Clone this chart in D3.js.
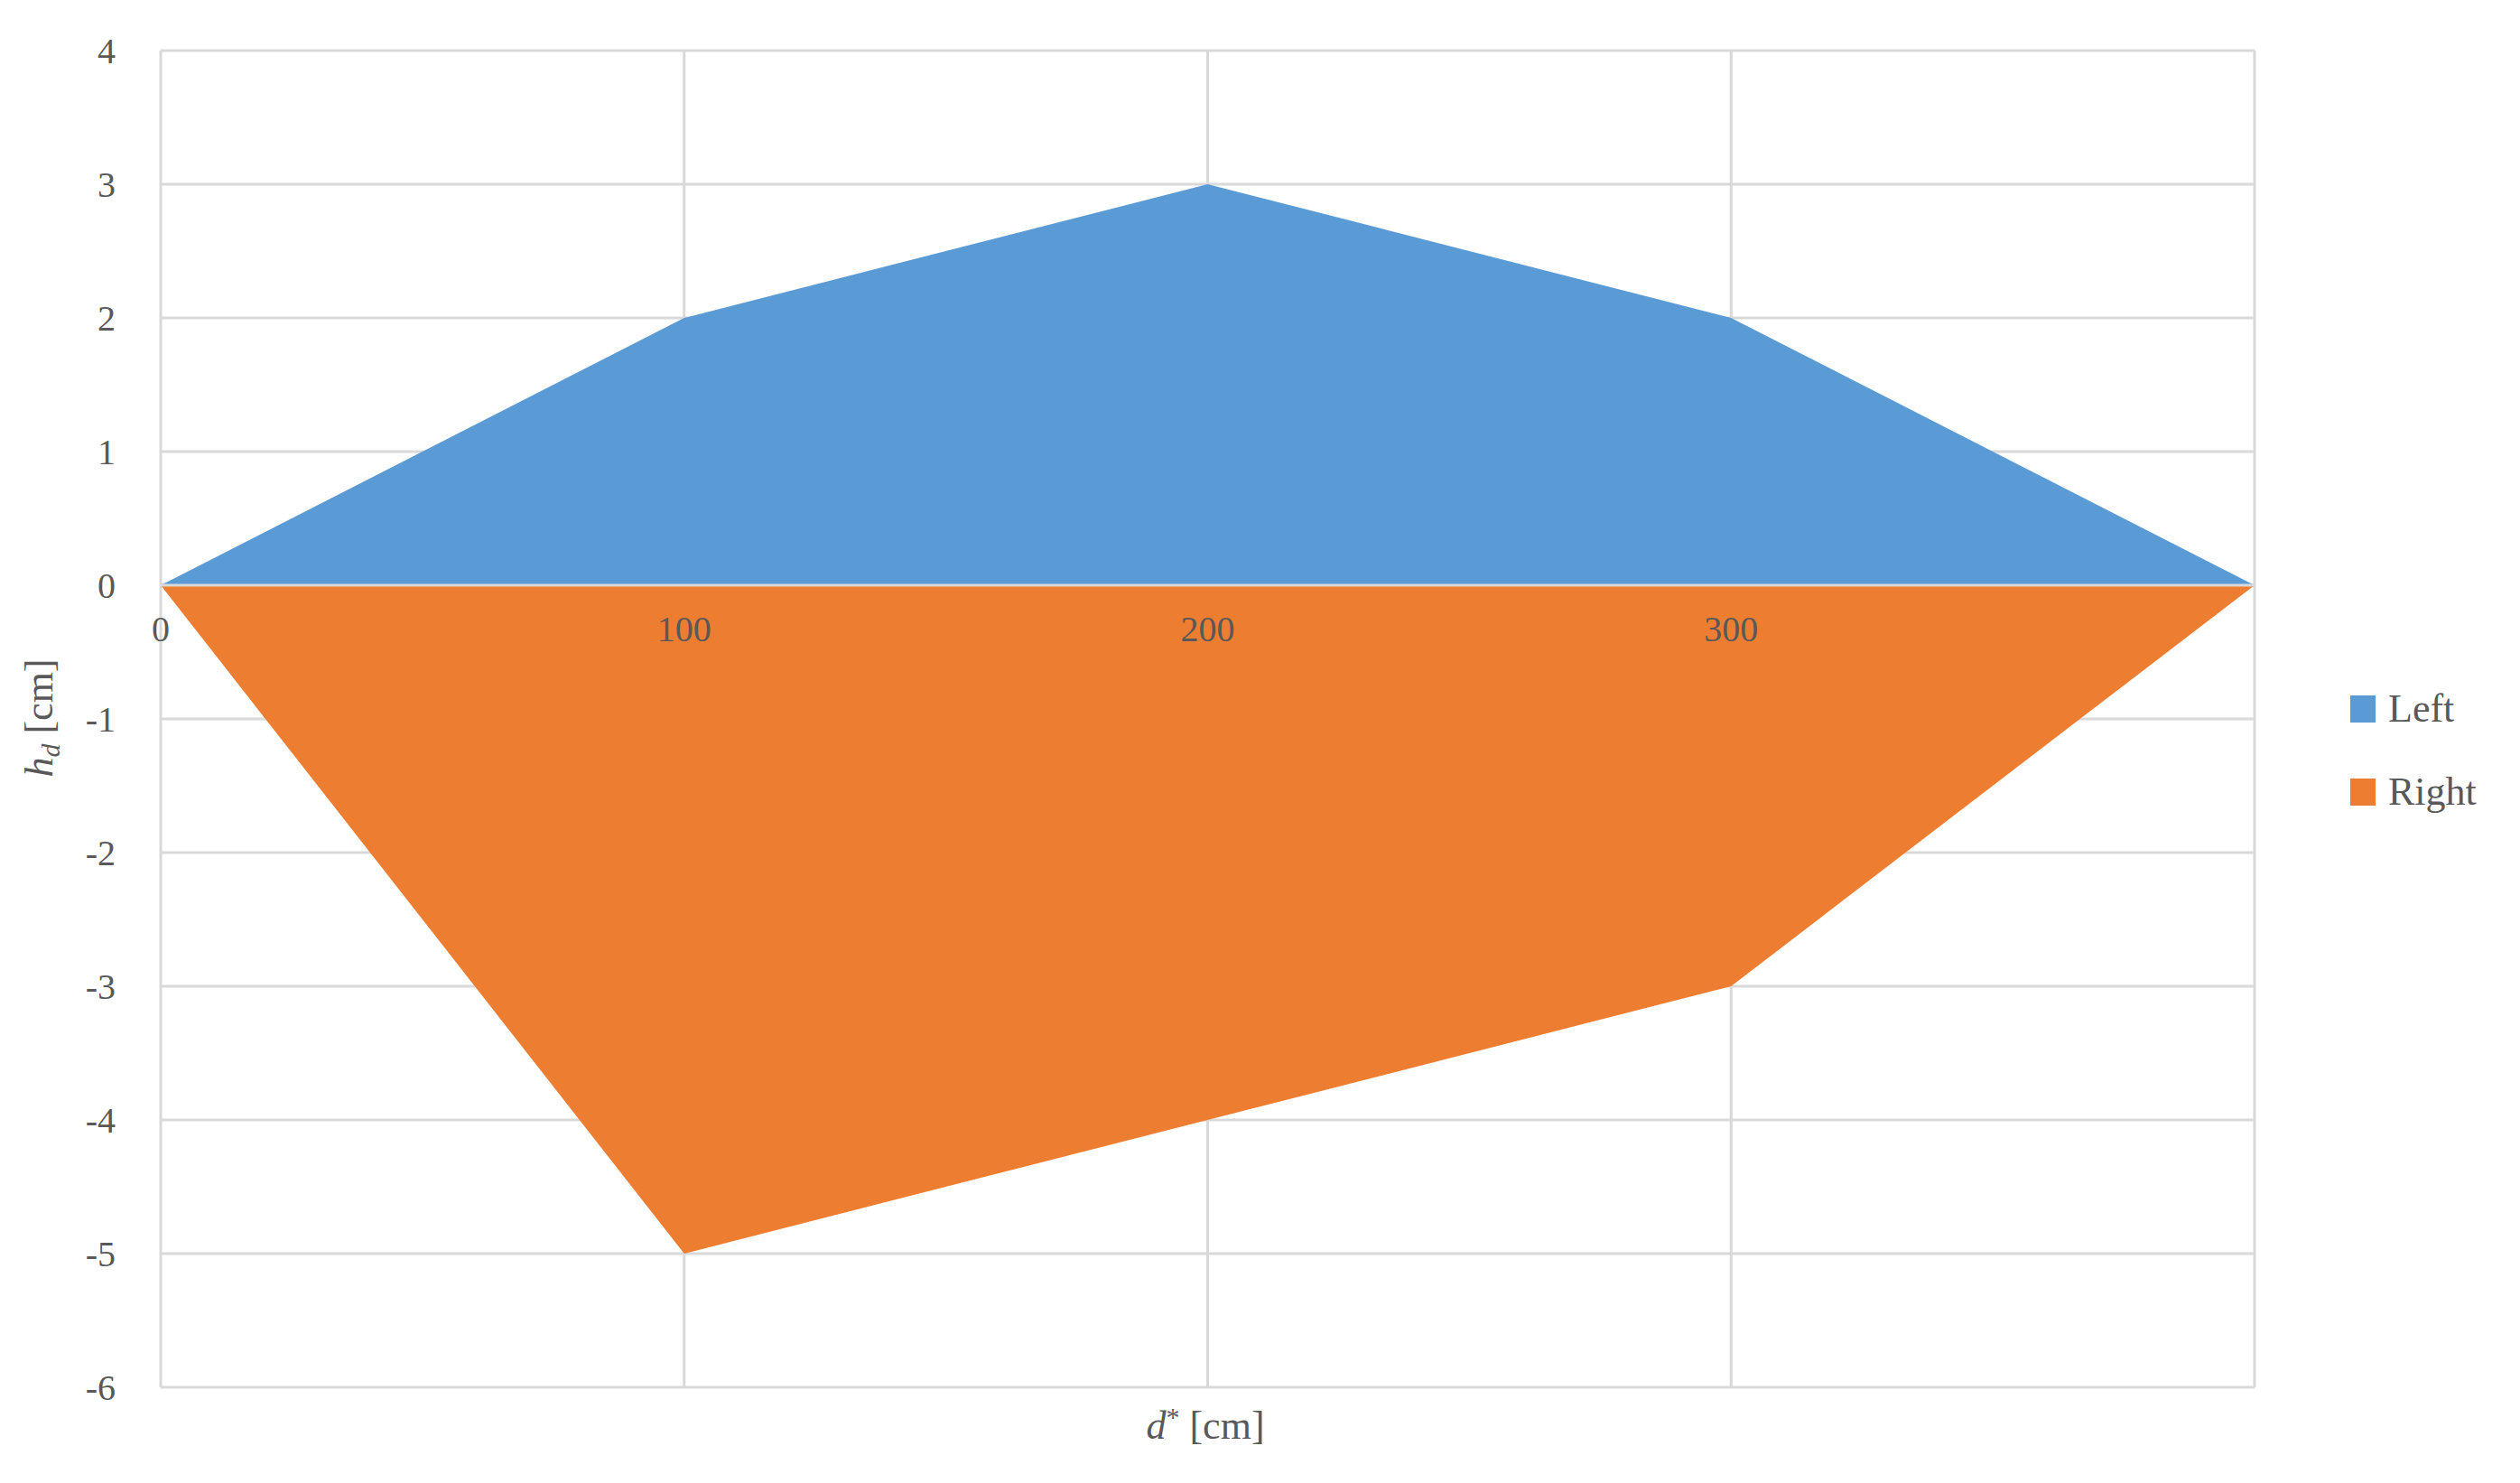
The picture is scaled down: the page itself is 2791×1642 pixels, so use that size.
<!DOCTYPE html>
<html><head><meta charset="utf-8">
<script src="https://cdn.jsdelivr.net/npm/d3@7"></script>
<style>body{margin:0;background:#fff}svg text{font-family:"Liberation Serif","DejaVu Serif",serif;fill:#595959}</style>
</head><body><div id="chart-area"></div>
<script>
var distances = [0, 100, 200, 300, 400];
var leftValues = [0, 2, 3, 2, 0];
var rightValues = [0, -5, -4, -3, 0];
var xTicks = [0, 100, 200, 300];
var yTicks = [4, 3, 2, 1, 0, -1, -2, -3, -4, -5, -6];
var seriesNames = ["Left", "Right"];
var colors = ["#5B9BD5", "#ED7D31"];

var W = 2791, H = 1642;
var m = {l: 178, r: 2497, t: 56, b: 1536};
var svg = d3.select("#chart-area").append("svg").attr("width", W).attr("height", H);

var x = d3.scaleLinear().domain([0, 400]).range([m.l, m.r]);
var y = d3.scaleLinear().domain([-6, 4]).range([m.b, m.t]);

// grid
svg.selectAll(".hg").data(yTicks).enter().append("line")
	.attr("x1", m.l).attr("x2", m.r).attr("y1", d => y(d)).attr("y2", d => y(d))
	.attr("stroke", "#d9d9d9").attr("stroke-width", 3);
svg.selectAll(".vg").data(distances).enter().append("line")
	.attr("y1", m.t).attr("y2", m.b).attr("x1", d => x(d)).attr("x2", d => x(d))
	.attr("stroke", "#d9d9d9").attr("stroke-width", 3);

var area = d3.area().x((d, i) => x(distances[i])).y0(y(0)).y1(d => y(d));
[leftValues, rightValues].forEach((vals, k) => {
	svg.append("path").datum(vals).attr("d", area).attr("fill", colors[k]);
});
svg.append("line").attr("x1", m.l).attr("x2", m.r).attr("y1", y(0)).attr("y2", y(0))
	.attr("stroke", "#d9d9d9").attr("stroke-width", 3);

// y labels
svg.selectAll(".yl").data(yTicks).enter().append("text")
	.attr("x", 128).attr("y", d => y(d) + 14).attr("text-anchor", "end")
	.attr("font-size", 40).text(d => d);
// x labels
svg.selectAll(".xl").data(xTicks).enter().append("text")
	.attr("x", d => x(d)).attr("y", y(0) + 62).attr("text-anchor", "middle")
	.attr("font-size", 40).text(d => d);

// axis titles
var yt = svg.append("text").attr("transform", "translate(58,795) rotate(-90)")
	.attr("text-anchor", "middle").attr("font-size", 44);
yt.append("tspan").attr("font-style", "italic").text("h");
yt.append("tspan").attr("font-style", "italic").attr("font-size", 30).attr("dy", 8).text("d");
yt.append("tspan").attr("dy", -8).text(" [cm]");

var xt = svg.append("text").attr("x", 1335).attr("y", 1593)
	.attr("text-anchor", "middle").attr("font-size", 44);
xt.append("tspan").attr("font-style", "italic").text("d");
xt.append("tspan").attr("font-size", 30).attr("dy", -14).text("*");
xt.append("tspan").attr("dy", 14).text(" [cm]");

// legend
seriesNames.forEach((n, i) => {
	var g = svg.append("g").attr("transform", "translate(2603," + (770 + i * 92) + ")");
	g.append("rect").attr("width", 28).attr("height", 30).attr("fill", colors[i]);
	g.append("text").attr("x", 42).attr("y", 29).attr("font-size", 44).text(n);
});
</script></body></html>
